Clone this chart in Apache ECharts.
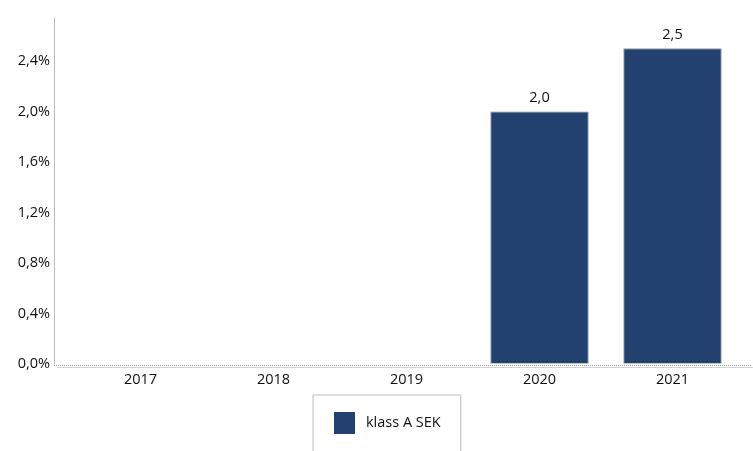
<!DOCTYPE html>
<html><head><meta charset="utf-8">
<script src="https://cdn.jsdelivr.net/npm/echarts@6/dist/echarts.min.js"></script>
<style>html,body{margin:0;padding:0;background:#fff}#c{width:753px;height:451px}</style>
</head><body><div id="c"></div>
<script>
const categories = ['2017', '2018', '2019', '2020', '2021'];
const seriesName = 'klass A SEK';
const values = [null, null, null, 2.0, 2.5];
const yTicks = [0, 0.4, 0.8, 1.2, 1.6, 2.0, 2.4];

const fmt = v => v.toFixed(1).replace('.', ',');
const chart = echarts.init(document.getElementById('c'));
const FONT = 'Open Sans';
const TXT = '#111';
chart.setOption({
  animation: false,
  grid: { left: 74, right: 14, top: 18, bottom: 87 },
  xAxis: {
    type: 'category', data: categories,
    axisLine: { show: false },
    axisTick: { show: false },
    axisLabel: { color: TXT, fontSize: 14.5, fontFamily: FONT, margin: 8 }
  },
  yAxis: {
    type: 'value', min: 0, max: 2.74, interval: 0.4, offset: 20,
    axisLine: { show: true, lineStyle: { color: '#bbb', width: 1 } },
    axisTick: { show: false },
    splitLine: { show: false },
    axisLabel: {
      color: TXT, fontSize: 14.5, fontFamily: FONT, margin: 4,
      showMaxLabel: false,
      formatter: v => yTicks.some(t => Math.abs(t - v) < 1e-6) ? fmt(v) + '%' : ''
    }
  },
  legend: {
    show: true, left: 313, top: 395,
    data: [seriesName],
    icon: 'rect', itemWidth: 21, itemHeight: 22, itemGap: 10,
    itemStyle: { borderWidth: 0 },
    padding: [17, 20, 40, 21],
    borderColor: '#bbb', borderWidth: 1,
    textStyle: { color: TXT, fontSize: 14.5, fontFamily: FONT, padding: [0, 0, 0, 6] }
  },
  graphic: [{
    type: 'line', silent: true,
    shape: { x1: 54, y1: 365.5, x2: 751, y2: 365.5 },
    style: { stroke: '#999', lineWidth: 1, lineDash: [1, 1] }
  }, {
    type: 'line', silent: true,
    shape: { x1: 57, y1: 367.5, x2: 753, y2: 367.5 },
    style: { stroke: '#d4d4d4', lineWidth: 1 }
  }],
  series: [{
    name: seriesName, type: 'bar', data: values,
    barCategoryGap: '26%',
    itemStyle: { color: '#22416F', borderColor: '#c4c4c4', borderWidth: 1 },
    label: {
      show: true, position: 'top', distance: 6,
      color: TXT, fontSize: 14.5, fontFamily: FONT,
      formatter: p => p.value == null ? '' : fmt(p.value)
    }
  }]
});
</script></body></html>
